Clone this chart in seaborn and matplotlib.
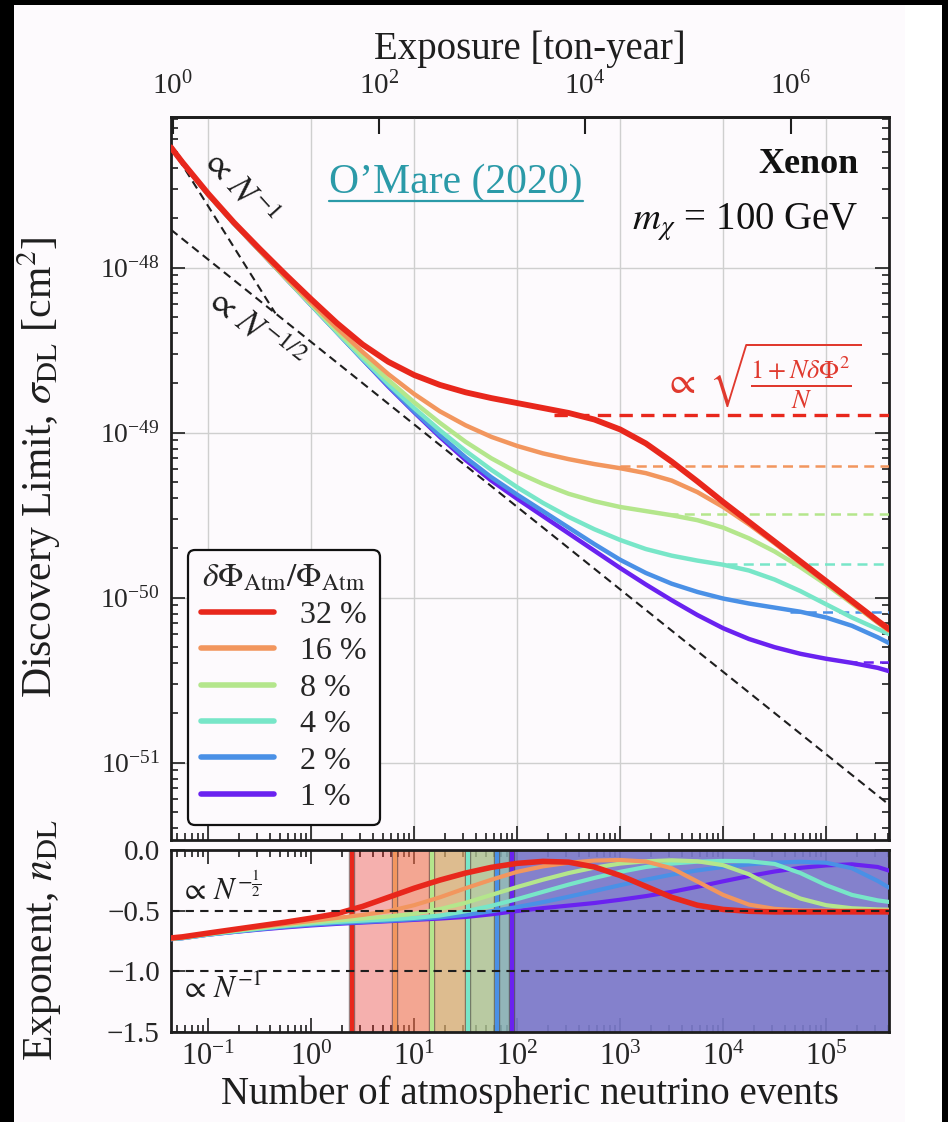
import numpy as np
import matplotlib
matplotlib.use("Agg")
import matplotlib.pyplot as plt
import seaborn as sns
from matplotlib.ticker import LogLocator, LogFormatterSciNotation, NullLocator, FixedLocator, NullFormatter
from matplotlib.patches import Rectangle
from matplotlib.lines import Line2D
import matplotlib.patheffects as pe

# ---------------------------------------------------------------- data
# log10 of the number of atmospheric neutrino events at which curves are sampled
log10_events = [-1.36, -1.25, -1.0, -0.75, -0.5, -0.25, 0.0, 0.25, 0.5, 0.75,
                 1.0, 1.25, 1.5, 1.75, 2.0, 2.25, 2.5, 2.75, 3.0, 3.25,
                 3.5, 3.75, 4.0, 4.25, 4.5, 4.75, 5.0, 5.25, 5.5, 5.61]

uncertainty_labels = ["32 %", "16 %", "8 %", "4 %", "2 %", "1 %"]
curve_colors = ["#e8271c", "#f2965e", "#b4e68c", "#78e6c8", "#4a90e6", "#6a22f0"]

# log10 of the discovery limit [cm^2] for each flux uncertainty
log10_sigma = {
    "32 %": [-47.270, -47.360, -47.550, -47.725, -47.885, -48.040, -48.190, -48.335, -48.465, -48.570,
             -48.650, -48.710, -48.755, -48.790, -48.820, -48.850, -48.880, -48.920, -48.980, -49.065,
             -49.175, -49.295, -49.420, -49.540, -49.660, -49.780, -49.900, -50.020, -50.140, -50.190],
    "16 %": [-47.270, -47.360, -47.555, -47.730, -47.895, -48.055, -48.210, -48.365, -48.510, -48.645,
             -48.765, -48.870, -48.955, -49.025, -49.080, -49.125, -49.160, -49.190, -49.215, -49.245,
             -49.290, -49.360, -49.450, -49.555, -49.670, -49.790, -49.910, -50.030, -50.150, -50.200],
    "8 %":  [-47.270, -47.360, -47.555, -47.730, -47.895, -48.060, -48.220, -48.380, -48.535, -48.680,
             -48.815, -48.940, -49.055, -49.155, -49.240, -49.310, -49.370, -49.415, -49.450, -49.475,
             -49.500, -49.530, -49.575, -49.640, -49.720, -49.815, -49.920, -50.035, -50.150, -50.200],
    "4 %":  [-47.270, -47.360, -47.555, -47.730, -47.895, -48.060, -48.225, -48.390, -48.550, -48.705,
             -48.850, -48.985, -49.110, -49.225, -49.330, -49.425, -49.510, -49.585, -49.650, -49.705,
             -49.745, -49.775, -49.800, -49.835, -49.890, -49.960, -50.040, -50.120, -50.190, -50.220],
    "2 %":  [-47.270, -47.360, -47.555, -47.730, -47.895, -48.060, -48.225, -48.390, -48.555, -48.715,
             -48.870, -49.015, -49.150, -49.270, -49.375, -49.475, -49.575, -49.675, -49.770, -49.850,
             -49.915, -49.965, -50.005, -50.035, -50.060, -50.085, -50.120, -50.170, -50.240, -50.275],
    "1 %":  [-47.270, -47.360, -47.555, -47.730, -47.895, -48.060, -48.225, -48.390, -48.555, -48.720,
             -48.875, -49.025, -49.165, -49.290, -49.400, -49.505, -49.610, -49.715, -49.820, -49.920,
             -50.015, -50.105, -50.185, -50.250, -50.300, -50.340, -50.370, -50.395, -50.425, -50.445],
}

# local power-law index of the discovery limit
exponent = {
    "32 %": [-0.725, -0.716, -0.685, -0.655, -0.625, -0.595, -0.562, -0.525, -0.465, -0.390,
             -0.315, -0.248, -0.190, -0.143, -0.110, -0.094, -0.100, -0.140, -0.210, -0.300,
             -0.390, -0.455, -0.490, -0.505, -0.510, -0.510, -0.510, -0.510, -0.510, -0.510],
    "16 %": [-0.730, -0.722, -0.690, -0.660, -0.635, -0.610, -0.585, -0.560, -0.535, -0.505,
             -0.455, -0.390, -0.315, -0.245, -0.180, -0.135, -0.105, -0.087, -0.082, -0.095,
             -0.150, -0.260, -0.370, -0.450, -0.485, -0.498, -0.500, -0.500, -0.500, -0.500],
    "8 %":  [-0.730, -0.722, -0.692, -0.666, -0.642, -0.618, -0.597, -0.580, -0.565, -0.548,
             -0.525, -0.487, -0.435, -0.370, -0.305, -0.245, -0.190, -0.145, -0.112, -0.093,
             -0.085, -0.093, -0.125, -0.200, -0.310, -0.400, -0.455, -0.480, -0.490, -0.492],
    "4 %":  [-0.735, -0.727, -0.697, -0.672, -0.648, -0.626, -0.607, -0.593, -0.582, -0.572,
             -0.560, -0.540, -0.505, -0.460, -0.405, -0.345, -0.285, -0.230, -0.180, -0.140,
             -0.112, -0.096, -0.090, -0.093, -0.115, -0.190, -0.290, -0.370, -0.415, -0.428],
    "2 %":  [-0.735, -0.727, -0.698, -0.675, -0.653, -0.633, -0.616, -0.603, -0.593, -0.583,
             -0.570, -0.555, -0.535, -0.505, -0.470, -0.430, -0.385, -0.338, -0.290, -0.245,
             -0.203, -0.168, -0.140, -0.118, -0.104, -0.097, -0.105, -0.150, -0.255, -0.310],
    "1 %":  [-0.735, -0.727, -0.698, -0.676, -0.656, -0.638, -0.622, -0.609, -0.598, -0.587,
             -0.576, -0.565, -0.552, -0.530, -0.503, -0.479, -0.458, -0.437, -0.410, -0.380,
             -0.345, -0.303, -0.258, -0.215, -0.177, -0.147, -0.127, -0.118, -0.140, -0.170],
}

# saturation floors (cm^2) and the event counts where their dashed guides begin
floor_sigma = [1.28e-49, 6.3e-50, 3.2e-50, 1.6e-50, 8.2e-51, 4.1e-51]
floor_start_events = [230, 1000, 2900, 1.1e4, 4.5e4, 1.6e5]

# event counts where each curve's index first rises above -1/2
transition_events = [2.5, 6.5, 15, 33, 64, 89]

# power-law guides: N^-1 and N^-1/2
guide_inv_events = [0.0437, 0.45]
guide_inv_sigma = [5.4e-48, 5.3e-49]
guide_sqrt_events = [0.0437, 4.07e5]
guide_sqrt_sigma = [1.7e-48, 5.57e-52]

EXPOSURE_PER_EVENT = 22.0     # ton-year per atmospheric neutrino event
X_MIN, X_MAX = 0.0437, 4.07e5
Y_MIN, Y_MAX = 3.4e-52, 8.2e-48

BG = "#fdfafd"
INK = "#1e1e1e"
TEAL = "#2b9aa8"
FORMULA_RED = "#e0392e"

# ---------------------------------------------------------------- style
sns.set_theme(style="white")
plt.rcParams["font.family"] = ["Liberation Serif", "DejaVu Serif"]
plt.rcParams["mathtext.fontset"] = "stix"
plt.rcParams["axes.unicode_minus"] = True

events = 10.0 ** np.array(log10_events)

fig = plt.figure(figsize=(9.48, 11.22), dpi=100, facecolor=BG)
ax = fig.add_axes([171 / 948, 1 - 840 / 1122, 718 / 948, 723 / 1122])
ax2 = fig.add_axes([171 / 948, 1 - 1032 / 1122, 718 / 948, 182 / 1122])

for a in (ax, ax2):
    a.set_facecolor(BG)
    a.set_xscale("log")
    a.set_xlim(X_MIN, X_MAX)
    for s in a.spines.values():
        s.set_linewidth(2.0)
        s.set_color(INK)
    a.tick_params(which="both", direction="in", color=INK, width=1.2)
    a.tick_params(which="major", length=10)
    a.tick_params(which="minor", length=5)
    a.xaxis.set_major_locator(LogLocator(10, numticks=30))
    a.xaxis.set_minor_locator(LogLocator(10, subs=np.arange(2, 10), numticks=30))

# ---------------------------------------------------------------- upper panel
ax.set_yscale("log")
ax.set_ylim(Y_MIN, Y_MAX)
ax.yaxis.set_major_locator(LogLocator(10, numticks=30))
ax.yaxis.set_minor_locator(LogLocator(10, subs=np.arange(2, 10), numticks=30))
ax.yaxis.set_major_formatter(LogFormatterSciNotation())
ax.yaxis.set_minor_formatter(NullFormatter())
ax.tick_params(axis="x", which="both", bottom=True, top=False, labelbottom=False)
ax.tick_params(axis="y", which="both", left=True, right=True, labelsize=20, pad=8)
ax.grid(True, which="major", color="#cfcfcf", lw=1.0)
ax.set_axisbelow(True)

# power-law guides
sns.lineplot(x=guide_inv_events, y=guide_inv_sigma, ax=ax, color=INK, lw=1.5,
             zorder=2).lines[-1].set_dashes((4, 2.5))
sns.lineplot(x=guide_sqrt_events, y=guide_sqrt_sigma, ax=ax, color=INK, lw=1.5,
             zorder=2).lines[-1].set_dashes((4, 2.5))

# saturation floors
for lab, c, fl, n0 in zip(uncertainty_labels, curve_colors, floor_sigma, floor_start_events):
    ax.hlines(fl, n0, X_MAX, colors=c, linestyles=(0, (4, 2.5)),
              lw=2.4 if lab == "32 %" else 1.8, zorder=3)

# discovery-limit curves, smallest uncertainty first so 32 % sits on top
for lab, c in list(zip(uncertainty_labels, curve_colors))[::-1]:
    sigma = 10.0 ** np.array(log10_sigma[lab])
    sns.lineplot(x=events, y=sigma, ax=ax, color=c, lw=4.2 if lab == "32 %" else 3.2,
                 zorder=5 if lab == "32 %" else 4, sort=False, estimator=None)

ax.set_ylabel(r"Discovery Limit, $\sigma_{\rm DL}$ [cm$^2$]", fontsize=30, color=INK)
ax.yaxis.set_label_coords(-0.15, 0.515)

# exposure axis on top
sec = ax.secondary_xaxis("top", functions=(lambda n: n * EXPOSURE_PER_EVENT,
                                           lambda e: e / EXPOSURE_PER_EVENT))
sec.xaxis.set_major_locator(FixedLocator([1e0, 1e2, 1e4, 1e6]))
sec.xaxis.set_minor_locator(NullLocator())
sec.xaxis.set_major_formatter(LogFormatterSciNotation())
sec.tick_params(which="major", direction="in", length=12, width=1.5, color=INK,
                labelsize=21, pad=12)
sec.spines["top"].set_linewidth(2.0)
sec.set_xlabel("Exposure [ton-year]", fontsize=28, labelpad=9, color=INK)

# annotations
ax.text(0.093, 0.902, r"$\propto\,N^{-1}$", transform=ax.transAxes, rotation=-48,
        fontsize=25, ha="center", va="center", color=INK)
ax.text(0.115, 0.705, r"$\propto\,N^{-1/2}$", transform=ax.transAxes, rotation=-39,
        fontsize=25, ha="center", va="center", color=INK)
ax.text(0.957, 0.934, "Xenon", transform=ax.transAxes, ha="right", va="center",
        fontsize=26, fontweight="bold", color="#111")
ax.text(0.957, 0.855, r"$m_{\chi}$ = 100 GeV", transform=ax.transAxes,
        ha="right", va="center", fontsize=28, color="#111")
ax.text(0.824, 0.643, r"$\propto\ \sqrt{\frac{1+N\delta\Phi^2}{N}}$", transform=ax.transAxes,
        ha="center", va="center", fontsize=27, color=FORMULA_RED)
cite = ax.text(0.397, 0.909, "O\u2019Mare (2020)", transform=ax.transAxes, ha="center",
               va="center", fontsize=30, color=TEAL)

handles = [Line2D([], [], color=c, lw=4) for c in curve_colors]
leg = ax.legend(handles, uncertainty_labels, title=r"$\delta\Phi_{\rm Atm}/\Phi_{\rm Atm}$",
                loc="lower left", bbox_to_anchor=(0.024, 0.021), borderaxespad=0,
                fontsize=23, title_fontsize=24, frameon=True, fancybox=True,
                edgecolor="#111", facecolor=BG, framealpha=1, handlelength=2.3,
                handletextpad=0.8, labelspacing=0.22, borderpad=0.4)
leg.get_frame().set_linewidth(1.6)
leg.set_zorder(10)

# ---------------------------------------------------------------- lower panel
ax2.set_ylim(-1.5, 0.0)
ax2.yaxis.set_major_locator(FixedLocator([0.0, -0.5, -1.0, -1.5]))
ax2.tick_params(axis="x", which="both", bottom=True, top=True, labelsize=22, pad=8)
ax2.tick_params(axis="y", which="both", left=True, right=True, labelsize=21, pad=8)

for n0, c in zip(transition_events, curve_colors):
    ax2.axvspan(n0, X_MAX, color=c, alpha=0.35, lw=0, zorder=1)
for n0, c in zip(transition_events, curve_colors):
    ax2.axvline(n0, color=c, lw=3.0, zorder=2,
                path_effects=[pe.Stroke(linewidth=4.6, foreground="#3a2a2a", alpha=0.55), pe.Normal()])

for lab, c in list(zip(uncertainty_labels, curve_colors))[::-1]:
    sns.lineplot(x=events, y=exponent[lab], ax=ax2, color=c,
                 lw=4.0 if lab == "32 %" else 3.0, zorder=5 if lab == "32 %" else 4,
                 sort=False, estimator=None)

for yv in (-0.5, -1.0):
    ax2.axhline(yv, color=INK, lw=1.5, dashes=(4, 3), zorder=6)

ax2.text(0.013, 0.78, r"$\propto\,N^{-\frac{1}{2}}$", transform=ax2.transAxes,
         ha="left", va="center", fontsize=22, color=INK)
ax2.text(0.013, 0.23, r"$\propto\,N^{-1}$", transform=ax2.transAxes,
         ha="left", va="center", fontsize=22, color=INK)

ax2.set_xlabel("Number of atmospheric neutrino events", fontsize=28, color=INK, labelpad=2)
ax2.set_ylabel(r"Exponent, $n_{\rm DL}$", fontsize=30, color=INK)
ax2.yaxis.set_label_coords(-0.15, 0.505)

# ---------------------------------------------------------------- frame decoration
fig.add_artist(Rectangle((905 / 948, 0), 37 / 948, 1, transform=fig.transFigure,
                         color="white", lw=0, zorder=-5))
for (x0, y0, w, h) in [(0, 0, 14 / 948, 1), (0, 1 - 5 / 1122, 1, 5 / 1122),
                       (942 / 948, 0, 6 / 948, 1)]:
    fig.add_artist(Rectangle((x0, y0), w, h, transform=fig.transFigure,
                             color="black", lw=0, zorder=20))

# underline the citation
fig.canvas.draw()
bb = cite.get_window_extent()
inv = fig.transFigure.inverted()
(ux0, uy0), (ux1, _) = inv.transform([(bb.x0, bb.y0), (bb.x1, bb.y0)])
fig.add_artist(Line2D([ux0, ux1], [uy0 + 0.001, uy0 + 0.001], transform=fig.transFigure,
                      color=TEAL, lw=1.6))

fig.savefig("out.png", dpi=100, facecolor=fig.get_facecolor())
